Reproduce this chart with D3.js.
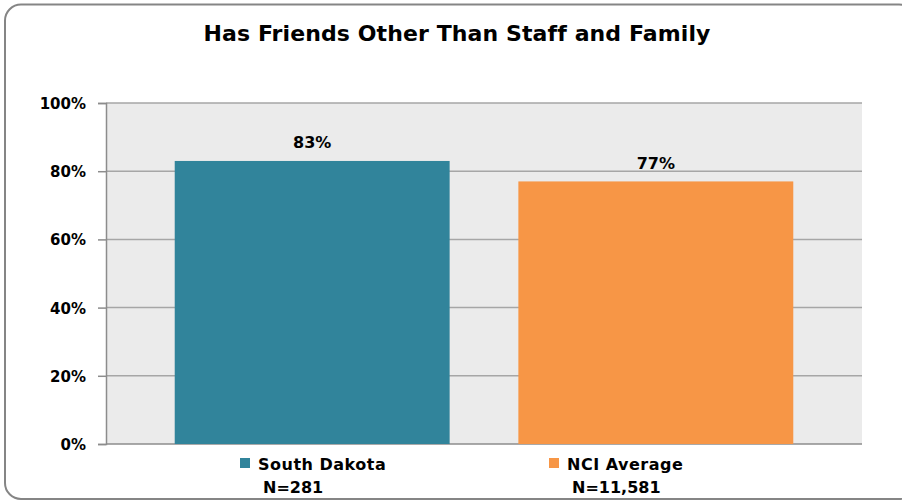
<!DOCTYPE html>
<html><head><meta charset="utf-8">
<script src="https://cdn.jsdelivr.net/npm/d3@7"></script>
<style>body{margin:0;background:#fff}svg{display:block}</style>
</head><body><svg id="c" width="902" height="501"></svg>
<script>
const categories = ["South Dakota", "NCI Average"];
const values = [83, 77];
const nLabels = ["N=281", "N=11,581"];
const colors = ["#31849B", "#F79646"];
const yTicks = [0, 20, 40, 60, 80, 100];
const title = "Has Friends Other Than Staff and Family";

const font = "'DejaVu Sans',sans-serif";
const svg = d3.select("#c");
svg.append("rect").attr("x",5).attr("y",4.5).attr("width",910).attr("height",494.5)
  .attr("rx",16).attr("fill","#fff").attr("stroke","#858585").attr("stroke-width",2);

const m = {l:106, r:862, t:103, b:444};
const x = d3.scaleBand().domain(categories).range([m.l, m.r]).paddingInner(0.2).paddingOuter(0.2);
const y = d3.scaleLinear().domain([0,100]).range([m.b, m.t]);

svg.append("rect").attr("x",m.l).attr("y",m.t).attr("width",m.r-m.l).attr("height",m.b-m.t).attr("fill","#EBEBEB");

svg.append("g").selectAll("line").data(yTicks.filter(d=>d>0)).join("line")
  .attr("x1",m.l).attr("x2",m.r).attr("y1",d=>y(d)).attr("y2",d=>y(d))
  .attr("stroke","#A6A6A6").attr("stroke-width",1.5);

const ya = svg.append("g").attr("transform",`translate(${m.l},0)`)
  .call(d3.axisLeft(y).tickValues(yTicks).tickFormat(d=>d+"%").tickSize(8).tickPadding(12));
ya.select(".domain").attr("stroke","#8c8c8c").attr("stroke-width",1.5);
ya.selectAll(".tick line").attr("stroke","#8c8c8c").attr("stroke-width",1.5);
ya.selectAll("text").attr("font-family",font).attr("font-weight","bold").attr("font-size",15).attr("fill","#000").attr("dy","0.36em");

svg.append("line").attr("x1",m.l).attr("x2",m.r).attr("y1",m.b).attr("y2",m.b).attr("stroke","#8c8c8c").attr("stroke-width",1.5);

svg.append("g").selectAll("rect").data(values).join("rect")
  .attr("x",(d,i)=>x(categories[i])).attr("width",x.bandwidth())
  .attr("y",d=>y(d)).attr("height",d=>m.b-y(d)).attr("fill",(d,i)=>colors[i]);

svg.append("g").selectAll("text").data(values).join("text")
  .attr("x",(d,i)=>x(categories[i])+x.bandwidth()/2).attr("y",d=>y(d)-12.5)
  .attr("text-anchor","middle").attr("font-family",font).attr("font-weight","bold").attr("font-size",16)
  .text(d=>d+"%");

svg.append("text").attr("x",457).attr("y",41).attr("text-anchor","middle")
  .attr("font-family",font).attr("font-weight","bold").attr("font-size",22).attr("letter-spacing",0.1).text(title);

const legendX = 240, legendStep = 309;
categories.forEach((c,i)=>{
  const sx = legendX + i*legendStep;
  svg.append("rect").attr("x",sx).attr("y",458).attr("width",10).attr("height",10).attr("fill",colors[i]);
  svg.append("text").attr("x",sx+18).attr("y",469.5).attr("font-family",font).attr("font-weight","bold")
    .attr("font-size",16).attr("letter-spacing",0.5).text(c);
  svg.append("text").attr("x",sx+23).attr("y",492.5).attr("font-family",font).attr("font-weight","bold")
    .attr("font-size",16).text(nLabels[i]);
});
</script></body></html>
